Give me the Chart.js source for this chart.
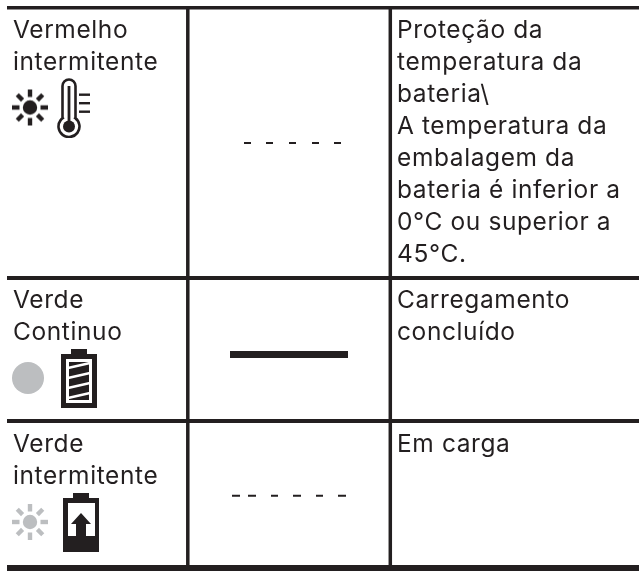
<!DOCTYPE html>
<html>
<head>
<meta charset="utf-8">
<script src="https://cdn.jsdelivr.net/npm/chart.js@4"></script>
<style>
  html, body { margin: 0; padding: 0; background: #fff; }
  #wrap { width: 639px; height: 571px; }
</style>
</head>
<body>
<div id="wrap"><canvas id="ledChart"></canvas></div>
<script>
// Table text
const ledStates = [['Vermelho', 'intermitente'], ['Verde', 'Continuo'], ['Verde', 'intermitente']];
const descriptions = [
  ['Proteção da', 'temperatura da', 'bateria\\', 'A temperatura da', 'embalagem da', 'bateria é inferior a', '0°C ou superior a', '45°C.'],
  ['Carregamento', 'concluído'],
  ['Em carga']
];
const textRows = [38, 308, 452];

// Table rules, read in canvas units
const ruleRows = [7.7, 278, 421, 568];
const ruleCols = [187.8, 390.3];
const ruleLeft = 7;
const ruleRight = 639;

// Indicator patterns: start and end of each stroke
const blinkRed = [[244, 251], [266, 273], [289, 296], [312, 319], [334, 341]];
const steadyGreen = [[230, 348]];
const blinkGreen = [[232, 240], [248, 256], [271, 278], [293, 301], [316, 323], [338, 346]];
const patternRows = [143, 354.5, 495.7];

// Icon anchors
const sunPoints = [{ x: 30, y: 107.5 }];
const thermoPoints = [{ x: 73, y: 108 }];
const dotPoints = [{ x: 28, y: 378 }];
const fullBatteryPoints = [{ x: 79, y: 378.5 }];
const greySunPoints = [{ x: 30, y: 522 }];
const chargeBatteryPoints = [{ x: 81, y: 522.5 }];

const INK = '#231f20';
const GREY = '#bcbec0';

function makeIcon(w, h, draw) {
  const c = document.createElement('canvas');
  c.width = w;
  c.height = h;
  draw(c.getContext('2d'));
  return c;
}

function sunIcon(color) {
  return makeIcon(38, 38, g => {
    g.translate(19, 19);
    g.fillStyle = color;
    g.beginPath();
    g.arc(0, 0, 7.2, 0, Math.PI * 2);
    g.fill();
    for (let i = 0; i < 8; i++) {
      g.save();
      g.rotate(i * Math.PI / 4);
      g.fillRect(10.5, -2.2, 7.5, 4.4);
      g.restore();
    }
  });
}

const thermometer = makeIcon(36, 60, g => {
  g.translate(-55, -78);
  g.strokeStyle = INK;
  g.fillStyle = INK;
  g.lineWidth = 2.6;
  g.beginPath();
  g.moveTo(62.5, 118);
  g.lineTo(62.5, 86);
  g.arc(69, 86, 6.5, Math.PI, 0);
  g.lineTo(75.5, 118);
  g.arc(69, 126.5, 10.5, -Math.PI / 2 + 0.65, -Math.PI / 2 - 0.65);
  g.closePath();
  g.stroke();
  g.beginPath();
  g.arc(69, 126.5, 6, 0, Math.PI * 2);
  g.fill();
  g.fillRect(67.6, 86, 2.8, 38);
  g.fillRect(79, 93.5, 11, 2.4);
  g.fillRect(79, 102, 11, 2.4);
  g.fillRect(79, 110.5, 11, 2.4);
});

const greyDot = makeIcon(34, 34, g => {
  g.fillStyle = GREY;
  g.beginPath();
  g.arc(17, 17, 16, 0, Math.PI * 2);
  g.fill();
});

const fullBattery = makeIcon(36, 59, g => {
  g.fillStyle = INK;
  g.fillRect(10, 0, 16, 6);
  g.fillRect(0, 5, 36, 54);
  g.fillStyle = '#fff';
  g.fillRect(5, 10, 26, 44);
  g.fillStyle = INK;
  g.fillRect(8, 13, 20, 38);
  g.strokeStyle = '#fff';
  g.lineWidth = 2.4;
  [16, 26, 36, 46].forEach(y => {
    g.beginPath();
    g.moveTo(7, y + 3);
    g.lineTo(29, y - 2);
    g.stroke();
  });
});

const chargeBattery = makeIcon(36, 59, g => {
  g.fillStyle = INK;
  g.fillRect(10, 0, 16, 6);
  g.fillRect(0, 5, 36, 54);
  g.fillStyle = '#fff';
  g.fillRect(5, 10, 27, 33);
  g.fillStyle = INK;
  g.beginPath();
  g.moveTo(18, 20);
  g.lineTo(28, 31);
  g.lineTo(23, 31);
  g.lineTo(23, 43);
  g.lineTo(13, 43);
  g.lineTo(13, 31);
  g.lineTo(8, 31);
  g.closePath();
  g.fill();
});

function strokesToPoints(strokes, y) {
  const pts = [];
  strokes.forEach(([a, b]) => {
    pts.push({ x: a, y }, { x: b, y }, { x: b, y: null });
  });
  return pts;
}

function lineSet(data, width) {
  return { type: 'line', data, borderColor: INK, borderWidth: width, pointRadius: 0, spanGaps: false, borderCapStyle: 'butt', clip: false };
}

function iconSet(data, img) {
  return { type: 'scatter', data, pointStyle: img, pointRadius: 10, pointHoverRadius: 10, showLine: false };
}

const ruleWidths = [3.5, 4, 4, 6];
const datasets = [];
ruleRows.forEach((y, i) => {
  datasets.push(lineSet([{ x: ruleLeft, y }, { x: ruleRight, y }], ruleWidths[i]));
});
ruleCols.forEach(x => {
  datasets.push(lineSet([{ x, y: ruleRows[0] }, { x, y: ruleRows[3] }], 3.5));
});
datasets.push(lineSet(strokesToPoints(blinkRed, patternRows[0]), 2));
datasets.push(lineSet(strokesToPoints(steadyGreen, patternRows[1]), 7));
datasets.push(lineSet(strokesToPoints(blinkGreen, patternRows[2]), 2));
datasets.push(iconSet(sunPoints, sunIcon(INK)));
datasets.push(iconSet(thermoPoints, thermometer));
datasets.push(iconSet(dotPoints, greyDot));
datasets.push(iconSet(fullBatteryPoints, fullBattery));
datasets.push(iconSet(greySunPoints, sunIcon(GREY)));
datasets.push(iconSet(chargeBatteryPoints, chargeBattery));

// Cell text goes through the same scales as the rules
const cellText = {
  id: 'cellText',
  afterDatasetsDraw(chart) {
    const { ctx, scales } = chart;
    ctx.save();
    ctx.fillStyle = INK;
    ctx.font = '400 24.5px Inter';
    ctx.letterSpacing = '0.6px';
    ctx.textBaseline = 'alphabetic';
    const put = (lines, x, top) => lines.forEach((t, i) => {
      ctx.fillText(t, scales.x.getPixelForValue(x), scales.y.getPixelForValue(top + i * 32));
    });
    ledStates.forEach((lines, i) => put(lines, 13, textRows[i]));
    descriptions.forEach((lines, i) => put(lines, 397, textRows[i]));
    ctx.restore();
  }
};

new Chart(document.getElementById('ledChart').getContext('2d'), {
  data: { datasets },
  options: {
    responsive: true,
    maintainAspectRatio: false,
    animation: false,
    events: [],
    layout: { padding: 0, autoPadding: false },
    plugins: { legend: { display: false }, tooltip: { enabled: false } },
    scales: {
      x: { type: 'linear', display: false, min: 0, max: 639 },
      y: { type: 'linear', display: false, min: 0, max: 571, reverse: true }
    }
  },
  plugins: [cellText]
});
</script>
</body>
</html>
